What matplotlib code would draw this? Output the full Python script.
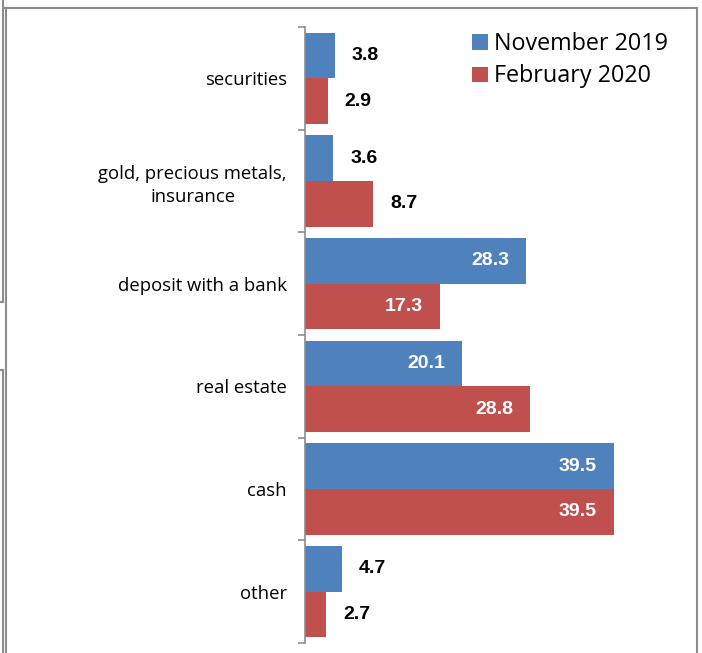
import numpy as np
import matplotlib
matplotlib.use('Agg')
from matplotlib import pyplot as plt
from matplotlib.lines import Line2D

# data
categories = ['securities', 'gold, precious metals,\ninsurance', 'deposit with a bank',
              'real estate', 'cash', 'other']
nov_2019 = [3.8, 3.6, 28.3, 20.1, 39.5, 4.7]
feb_2020 = [2.9, 8.7, 17.3, 28.8, 39.5, 2.7]
series_names = ['November 2019', 'February 2020']

blue = '#4F81BD'
red = '#C0504D'
grey = '#8C8C8C'

plt.rcParams['font.family'] = ['Open Sans', 'DejaVu Sans']

fig = plt.figure(figsize=(7.02, 6.53), dpi=100)
W, H = 702, 653

# axes placed in pixel terms
ax_left, ax_top, ax_bottom = 305, 27, 643
px_per_unit = 7.82
xmax = 50
ax = fig.add_axes([ax_left / W, 1 - ax_bottom / H, xmax * px_per_unit / W, (ax_bottom - ax_top) / H])

y = np.arange(len(categories))
h = 0.445
b1 = ax.barh(y - h / 2, nov_2019, height=h, color=blue, label=series_names[0])
b2 = ax.barh(y + h / 2, feb_2020, height=h, color=red, label=series_names[1])

ax.set_xlim(0, xmax)
ax.set_ylim(len(categories) - 0.5, -0.5)

# value labels: white inside big bars, black outside small ones
lab_font = ['Liberation Sans', 'DejaVu Sans']
for bars, vals in ((b1, nov_2019), (b2, feb_2020)):
    for bar, v in zip(bars, vals):
        yc = bar.get_y() + bar.get_height() / 2
        if v > 10:
            ax.annotate('%.1f' % v, (v, yc), xytext=(-12.2, 0), textcoords='offset points',
                        ha='right', va='center', color='white', fontweight='bold',
                        family=lab_font, fontsize=14)
        else:
            ax.annotate('%.1f' % v, (v, yc), xytext=(12.2, 0), textcoords='offset points',
                        ha='left', va='center', color='black', fontweight='bold',
                        family=lab_font, fontsize=14)

# axis styling
for s in ['top', 'right', 'bottom']:
    ax.spines[s].set_visible(False)
ax.spines['left'].set_color(grey)
ax.spines['left'].set_linewidth(1.2)
ax.set_xticks([])
ax.set_yticks(y)
ax.set_yticklabels(categories, fontsize=13.3, linespacing=1.35)
ax.tick_params(axis='y', which='major', length=0, pad=13)
ax.set_yticks(np.arange(-0.5, len(categories)), minor=True)
ax.tick_params(axis='y', which='minor', length=5, color=grey, width=1.2)
for lab in ax.get_yticklabels():
    lab.set_horizontalalignment('right')
    lab.set_multialignment('center')

leg = fig.legend(loc='upper left', bbox_to_anchor=(463 / W, 1 - 23 / H), frameon=False,
                 fontsize=16.8, handlelength=0.65, handleheight=0.65, handletextpad=0.28,
                 labelspacing=0.35, borderaxespad=0)

# outer frame of the pasted chart
frame = [
    ((5, 697), (7.5, 7.5)),
    ((696.5, 696.5), (7.5, 653)),
    ((6, 6), (7.5, 653)),
    ((3, 3), (0, 302)),
    ((0, 3), (302, 302)),
    ((3, 3), (370, 653)),
    ((0, 3), (370, 370)),
]
for xs, ys in frame:
    fig.add_artist(Line2D([xs[0] / W, xs[1] / W], [1 - ys[0] / H, 1 - ys[1] / H],
                          color=grey, linewidth=1.5, transform=fig.transFigure))

plt.savefig('out.png', dpi=100)
